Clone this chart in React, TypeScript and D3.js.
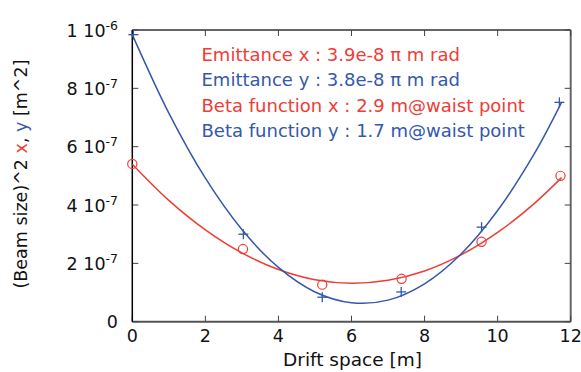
import React from "react";
import * as d3 from "d3";

const RED = "#ee3d35";
const BLUE = "#3458ab";

// Measured points
const xPointsX = [0, 3.03, 5.2, 7.37, 9.56, 11.72];
const xPointsY = [5.41e-7, 2.49e-7, 1.27e-7, 1.47e-7, 2.74e-7, 5.0e-7];
const yPointsX = [0.03, 3.04, 5.2, 7.36, 9.56, 11.69];
const yPointsY = [9.84e-7, 3.0e-7, 0.84e-7, 1.02e-7, 3.24e-7, 7.52e-7];

// Fit curves
const curveS = [0, 1, 2, 3, 4, 5, 6, 7, 8, 9, 10, 11, 11.75];
const curveX = [5.40e-7, 4.16e-7, 3.15e-7, 2.36e-7, 1.79e-7, 1.44e-7, 1.32e-7, 1.42e-7, 1.74e-7, 2.29e-7, 3.06e-7, 4.05e-7, 4.94e-7];
const curveY = [9.84e-7, 7.15e-7, 4.92e-7, 3.16e-7, 1.86e-7, 1.02e-7, 0.65e-7, 0.74e-7, 1.30e-7, 2.32e-7, 3.81e-7, 5.75e-7, 7.52e-7];

const xTicks = [0, 2, 4, 6, 8, 10, 12];
const yTickMant = ["0", "2", "4", "6", "8", "1"];
const yTickExp = ["", "-7", "-7", "-7", "-7", "-6"];
const yTicks = [0, 2e-7, 4e-7, 6e-7, 8e-7, 1e-6];

const legendLines = [
  { text: "Emittance x : 3.9e-8 \u03c0 m rad", color: RED },
  { text: "Emittance y : 3.8e-8 \u03c0 m rad", color: BLUE },
  { text: "Beta function x : 2.9 m@waist point", color: RED },
  { text: "Beta function y : 1.7 m@waist point", color: BLUE },
];

const FONT = "'DejaVu Sans', sans-serif";

export default function App() {
  const W = 581, H = 372;
  const L = 132.3, R = 570.7, T = 30, B = 321.7;
  const x = d3.scaleLinear().domain([0, 12]).range([L, R]);
  const y = d3.scaleLinear().domain([0, 1e-6]).range([B, T]);
  const lineX = d3
    .line<number>()
    .x((_, i) => x(curveS[i]))
    .y((d) => y(d))
    .curve(d3.curveCatmullRom.alpha(0.5))(curveX) || "";
  const lineY = d3
    .line<number>()
    .x((_, i) => x(curveS[i]))
    .y((d) => y(d))
    .curve(d3.curveCatmullRom.alpha(0.5))(curveY) || "";
  const tl = 6;
  return (
    <svg
      width={W}
      height={H}
      style={{ position: "absolute", left: 0, top: 0, background: "#fff" }}
      fontFamily={FONT}
    >
      <rect x={0} y={0} width={W} height={H} fill="#fff" />
      {/* frame */}
      <line x1={L} x2={R} y1={T} y2={T} stroke="#666" strokeWidth={2} />
      <line x1={L} x2={R} y1={B} y2={B} stroke="#555" strokeWidth={2} />
      <line x1={R} x2={R} y1={T} y2={B} stroke="#666" strokeWidth={2} />
      {/* x ticks */}
      {xTicks.map((t) => (
        <g key={"xt" + t}>
          <line x1={x(t)} x2={x(t)} y1={B} y2={B - tl} stroke="#444" strokeWidth={1} />
          <line x1={x(t)} x2={x(t)} y1={T} y2={T + tl} stroke="#444" strokeWidth={1} />
          <text x={x(t)} y={342} textAnchor="middle" fontSize={17.5} fill="#111">
            {t}
          </text>
        </g>
      ))}
      {/* y ticks */}
      {yTicks.map((t, i) => (
        <g key={"yt" + i}>
          <line x1={L} x2={L + tl} y1={y(t)} y2={y(t)} stroke="#444" strokeWidth={1} />
          <line x1={R} x2={R - tl} y1={y(t)} y2={y(t)} stroke="#444" strokeWidth={1} />
          <text x={118} y={y(t) + 6.5} textAnchor="end" fontSize={17.5} fill="#111">
            {yTickExp[i] === "" ? (
              yTickMant[i]
            ) : (
              <>
                {yTickMant[i] + " 10"}
                <tspan fontSize={12.5} dy={-7}>
                  {yTickExp[i]}
                </tspan>
              </>
            )}
          </text>
        </g>
      ))}
      <line x1={L} x2={L} y1={T} y2={B} stroke="#000" strokeWidth={1.5} />
      {/* curves */}
      <path d={lineX} fill="none" stroke={RED} strokeWidth={1.5} />
      <path d={lineY} fill="none" stroke={BLUE} strokeWidth={1.5} />
      {/* markers */}
      {xPointsX.map((v, i) => (
        <circle key={"c" + i} cx={x(v)} cy={y(xPointsY[i])} r={4.6} fill="none" stroke={RED} strokeWidth={1.2} />
      ))}
      {yPointsX.map((v, i) => {
        const cx = x(v), cy = y(yPointsY[i]), s = 5;
        return (
          <g key={"p" + i} stroke={BLUE} strokeWidth={1.3}>
            <line x1={cx - s} x2={cx + s} y1={cy} y2={cy} />
            <line x1={cx} x2={cx} y1={cy - s} y2={cy + s} />
          </g>
        );
      })}
      {/* legend */}
      {legendLines.map((l, i) => (
        <text key={"lg" + i} x={201.5} y={61 + i * 25.4} fontSize={18} fill={l.color}>
          {l.text}
        </text>
      ))}
      {/* axis titles */}
      <text x={352.5} y={366} textAnchor="middle" fontSize={18.5} fill="#111">
        Drift space [m]
      </text>
      <text transform="translate(27,174) rotate(-90)" textAnchor="middle" fontSize={17.5} fill="#111">
        (Beam size)^2 <tspan fill={RED}>x</tspan>, <tspan fill={BLUE}>y</tspan> [m^2]
      </text>
    </svg>
  );
}
